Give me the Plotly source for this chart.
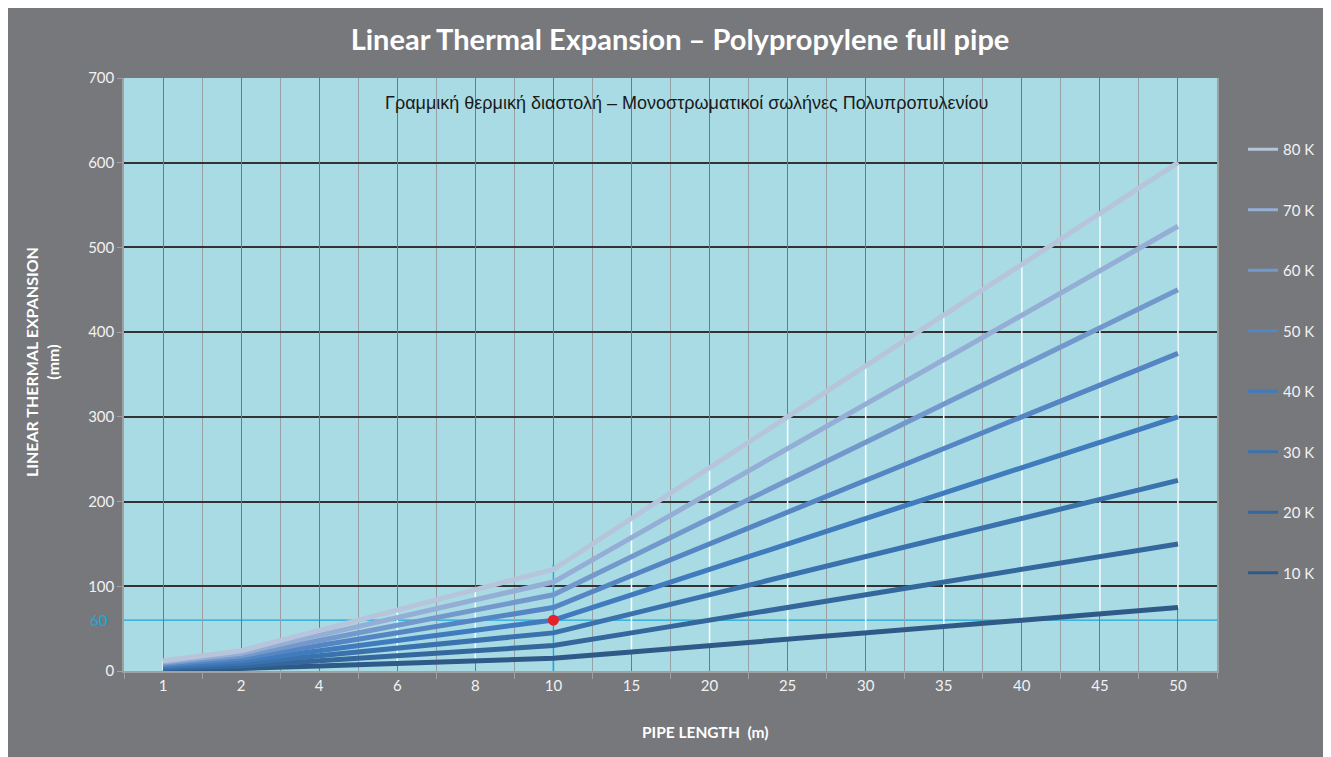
import plotly.graph_objects as go

# ---- data ----
pipe_length = ["1", "2", "4", "6", "8", "10", "15", "20", "25", "30", "35", "40", "45", "50"]
series_names = ["10 K", "20 K", "30 K", "40 K", "50 K", "60 K", "70 K", "80 K"]
exp_10K = [1.5, 3, 6, 9, 12, 15, 22.5, 30, 37.5, 45, 52.5, 60, 67.5, 75]
exp_20K = [3, 6, 12, 18, 24, 30, 45, 60, 75, 90, 105, 120, 135, 150]
exp_30K = [4.5, 9, 18, 27, 36, 45, 67.5, 90, 112.5, 135, 157.5, 180, 202.5, 225]
exp_40K = [6, 12, 24, 36, 48, 60, 90, 120, 150, 180, 210, 240, 270, 300]
exp_50K = [7.5, 15, 30, 45, 60, 75, 112.5, 150, 187.5, 225, 262.5, 300, 337.5, 375]
exp_60K = [9, 18, 36, 54, 72, 90, 135, 180, 225, 270, 315, 360, 405, 450]
exp_70K = [10.5, 21, 42, 63, 84, 105, 157.5, 210, 262.5, 315, 367.5, 420, 472.5, 525]
exp_80K = [12, 24, 48, 72, 96, 120, 180, 240, 300, 360, 420, 480, 540, 600]
y_ticks = [0, 100, 200, 300, 400, 500, 600, 700]
highlight_length = "10"
highlight_value = 60
highlight_top = 126

series_values = [exp_10K, exp_20K, exp_30K, exp_40K, exp_50K, exp_60K, exp_70K, exp_80K]
colors = ["#2f5a88", "#34679c", "#3a72ad", "#3f7bbd", "#5585c3", "#7399cc", "#95aed5", "#b7c5dc"]

GREY = "#77787c"
PLOT_BG = "#a9dbe4"
CYAN = "#1aa7dd"
FONT = "Lato, Open Sans, sans-serif"

fig = go.Figure()

# invisible trace for the overlaying axis (center gridlines)
fig.add_trace(go.Scatter(x=pipe_length, y=[None] * len(pipe_length), xaxis="x2",
                         mode="lines", showlegend=False, hoverinfo="skip"))

# high-low lines (white)
hl_x, hl_y = [], []
for i, c in enumerate(pipe_length):
    vals = [s[i] for s in series_values]
    hl_x += [c, c, None]
    hl_y += [min(vals), max(vals), None]
fig.add_trace(go.Scatter(x=hl_x, y=hl_y, mode="lines", line=dict(color="white", width=1.5),
                         showlegend=False, hoverinfo="skip"))

# cyan vertical highlight line
fig.add_trace(go.Scatter(x=[highlight_length, highlight_length], y=[0, highlight_top], mode="lines",
                         line=dict(color=CYAN, width=1.6), showlegend=False, hoverinfo="skip"))

for k, (name, vals, col) in enumerate(zip(series_names, series_values, colors)):
    fig.add_trace(go.Scatter(x=pipe_length, y=vals, mode="lines", name=name,
                             line=dict(color=col, width=5), showlegend=False))
    # legend-only entry with thinner sample line
    fig.add_trace(go.Scatter(x=[pipe_length[0]], y=[None], mode="lines", name=name,
                             line=dict(color=col, width=3), hoverinfo="skip",
                             legendgroup=name, legendrank=100 - k))

fig.add_trace(go.Scatter(x=[highlight_length], y=[highlight_value], mode="markers",
                         marker=dict(color="#e8202a", size=11, line=dict(width=0)),
                         showlegend=False, hoverinfo="skip"))

# plot area background + horizontal highlight line
fig.add_shape(type="rect", xref="paper", yref="paper", x0=0, x1=1, y0=0, y1=1,
              fillcolor=PLOT_BG, line=dict(width=0), layer="below")
fig.add_shape(type="line", xref="paper", yref="y", x0=0, x1=1, y0=highlight_value, y1=highlight_value,
              line=dict(color=CYAN, width=1.2), layer="below")

fig.update_layout(
    width=1323, height=749,
    margin=dict(l=116, r=113, t=70, b=86),
    paper_bgcolor=GREY,
    plot_bgcolor="rgba(0,0,0,0)",
    font=dict(family=FONT, color="#f2f2f2", size=15),
    title=dict(text="<b>Linear Thermal Expansion – Polypropylene full pipe</b>",
               font=dict(family=FONT, size=29, color="white"),
               x=(680 - 8) / 1323, xref="container", xanchor="center",
               y=1 - 32 / 749, yref="container", yanchor="middle"),
    xaxis=dict(type="category", categoryorder="array", categoryarray=pipe_length,
               range=[-0.5, len(pipe_length) - 0.5],
               tickson="boundaries", ticks="outside", ticklen=6, tickcolor="#a0a0a0",
               showgrid=True, gridcolor="#97a0a4", gridwidth=1.2,
               showline=True, linecolor="#a0a0a0", linewidth=1.5,
               tickfont=dict(size=15, color="#f2f2f2"), zeroline=False, fixedrange=True),
    xaxis2=dict(type="category", categoryorder="array", categoryarray=pipe_length,
                range=[-0.5, len(pipe_length) - 0.5], overlaying="x",
                showgrid=True, gridcolor="#6c7b83", gridwidth=1.2,
                showticklabels=False, ticks="", showline=False, zeroline=False),
    yaxis=dict(range=[0, 700], tickvals=y_ticks, ticks="outside", ticklen=5, tickcolor="#a0a0a0",
               showgrid=True, gridcolor="#333333", gridwidth=1.5,
               showline=True, linecolor="#a0a0a0", linewidth=1.5, mirror=True,
               tickfont=dict(size=15, color="#f2f2f2"), zeroline=False),
    legend=dict(x=(1243 - 124) / 1094, xanchor="left", y=(671 - 133) / 593, yanchor="top",
                bgcolor="rgba(0,0,0,0)", font=dict(size=15, color="#f2f2f2", family=FONT),
                tracegroupgap=38, itemwidth=30),
    showlegend=True,
)

fig.add_annotation(text="Γραμμική θερμική διαστολή – Μονοστρωματικοί σωλήνες Πολυπροπυλενίου",
                   xref="paper", yref="paper", x=(687 - 124) / 1094, y=(671 - 103) / 593,
                   showarrow=False, xanchor="center", yanchor="middle",
                   font=dict(family="Liberation Sans Narrow, Arial Narrow, sans-serif", size=18, color="#1a1a1a"))
fig.add_annotation(text=str(highlight_value), xref="paper", yref="y", x=0, y=highlight_value,
                   xanchor="right", yanchor="middle", xshift=-14, showarrow=False,
                   font=dict(family=FONT, size=15, color=CYAN))
fig.add_annotation(text="<b>PIPE LENGTH  (m)</b>", xref="paper", yref="paper",
                   x=(706 - 124) / 1094, y=(671 - 732) / 593, showarrow=False,
                   xanchor="center", yanchor="middle", font=dict(family=FONT, size=15.5, color="white"))
fig.add_annotation(text="<b>LINEAR THERMAL EXPANSION<br>(mm)</b>", xref="paper", yref="paper",
                   x=(42 - 124) / 1094, y=(671 - 362) / 593, showarrow=False, textangle=-90,
                   xanchor="center", yanchor="middle", font=dict(family=FONT, size=16, color="white"))

fig.write_html("out.html")
